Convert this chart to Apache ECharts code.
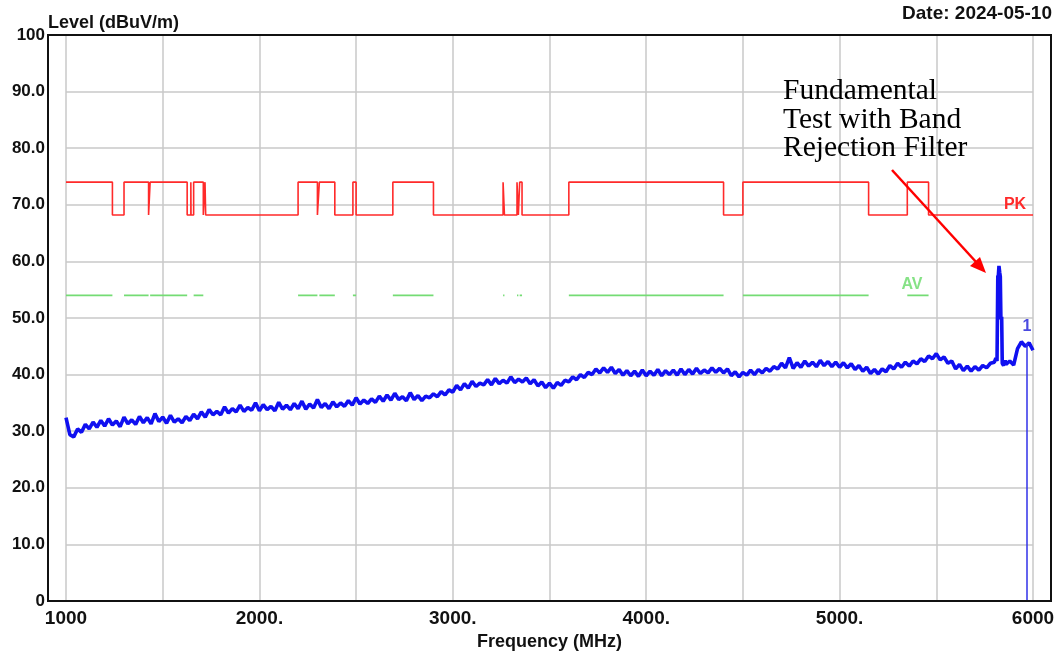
<!DOCTYPE html>
<html>
<head>
<meta charset="utf-8">
<script src="https://cdn.jsdelivr.net/npm/echarts@6/dist/echarts.min.js"></script>
<style>
  html, body { margin: 0; padding: 0; background: #fff; }
  #chart { width: 1061px; height: 654px; }
</style>
</head>
<body>
<div id="chart"></div>
<script>
// 限值 (dBuV/m)
const pkHigh = 74
const pkLow = 68.2
const avLevel = 54

// 限制频段 (MHz)
const restrictedBands = [
  [1000, 1240], [1300, 1427], [1435, 1626.5], [1645.5, 1646.5], [1660, 1710],
  [1718.8, 1722.2], [2200, 2300], [2310, 2390], [2483.5, 2500], [2690, 2900],
  [3260, 3267], [3332, 3339], [3345.8, 3358], [3600, 4400], [4500, 5150], [5350, 5460]
]

// 测量曲线: 1000 ~ 5800 MHz, 每 20 MHz 一个点
const traceStart = 1000
const traceStep = 20
const traceLevels = [
  32.4, 29.4, 29.0, 30.4, 29.8, 31.2, 30.4, 31.6, 30.7, 31.9,
  30.9, 32.2, 31.1, 31.8, 30.8, 32.5, 31.3, 32.0, 31.2, 32.6,
  31.5, 32.4, 31.3, 33.1, 31.7, 32.5, 31.4, 32.8, 31.6, 32.2,
  31.5, 32.6, 31.9, 33.0, 32.2, 33.4, 32.5, 33.8, 32.9, 33.5,
  32.9, 34.3, 33.2, 34.0, 33.4, 34.6, 33.5, 34.2, 33.7, 35.0,
  33.6, 34.7, 33.8, 34.4, 33.6, 35.1, 33.9, 34.6, 33.8, 34.9,
  34.0, 35.3, 33.9, 34.8, 34.1, 35.6, 34.2, 34.9, 34.0, 35.2,
  34.3, 35.0, 34.4, 35.4, 34.6, 35.9, 34.8, 35.5, 34.9, 35.7,
  35.1, 36.2, 35.3, 36.4, 35.5, 36.7, 35.6, 36.1, 35.4, 36.8,
  35.6, 36.3, 35.4, 36.2, 35.9, 36.6, 36.1, 37.0, 36.4, 37.3,
  36.9, 38.1, 37.3, 38.4, 37.6, 38.8, 37.9, 38.5, 38.2, 39.1,
  38.2, 39.3, 38.4, 39.0, 38.5, 39.6, 38.6, 39.2, 38.7, 39.4,
  38.4, 39.1, 38.0, 38.7, 37.7, 38.5, 37.6, 38.6, 38.1, 39.0,
  38.7, 39.6, 39.1, 40.0, 39.5, 40.4, 40.0, 41.0, 40.3, 41.2,
  40.4, 41.3, 40.2, 40.9, 39.9, 40.7, 39.8, 40.6, 39.7, 40.8,
  39.8, 40.6, 39.9, 40.9, 39.8, 40.7, 40.0, 40.8, 39.9, 41.0,
  40.0, 40.9, 40.1, 41.1, 40.2, 40.8, 40.3, 41.2, 40.4, 41.1,
  40.3, 41.0, 39.8, 40.5, 39.6, 40.4, 39.9, 40.8, 40.0, 40.9,
  40.3, 41.1, 40.6, 41.4, 41.0, 42.0, 41.2, 43.0, 41.1, 42.1,
  41.3, 42.4, 41.5, 42.2, 41.4, 42.5, 41.6, 42.3, 41.4, 42.2,
  41.3, 42.1, 41.2, 41.9, 40.9, 41.6, 40.6, 41.3, 40.2, 40.9,
  40.1, 41.0, 40.5, 41.6, 41.0, 42.0, 41.3, 42.2, 41.5, 42.4,
  41.9, 42.8, 42.3, 43.3, 42.8, 43.7, 42.6, 43.1, 42.0, 42.4,
  41.0, 41.8, 40.7, 41.5, 40.6, 41.4, 40.8, 41.6, 41.2, 42.0,
  42.2
]
// 基波 (带阻滤波器) 附近的细节点 [MHz, dBuV/m]
const peakPoints = [
  [5808, 42.9], [5814, 42.4], [5818, 57.5], [5820, 57.0], [5824, 59.2],
  [5828, 58.0], [5831, 57.3], [5834, 49.8], [5838, 50.2], [5841, 42.0],
  [5848, 41.6], [5856, 42.5]
]
const tailPoints = [
  [5860, 41.8], [5880, 42.4], [5900, 41.7], [5920, 44.6], [5940, 45.8],
  [5960, 45.0], [5980, 45.6], [6000, 44.3]
]
// 标记 1
const marker1 = { freq: 5969, level: 45.6 }

// 刻度标签
const xLabelValues = [1000, 2000, 3000, 4000, 5000, 6000]
const xLabelTexts = ['1000', '2000.', '3000.', '4000.', '5000.', '6000']
const yLabelValues = [0, 10, 20, 30, 40, 50, 60, 70, 80, 90, 100]
const yLabelTexts = ['0', '10.0', '20.0', '30.0', '40.0', '50.0', '60.0', '70.0', '80.0', '90.0', '100']

const trace = traceLevels.map((v, i) => [traceStart + i * traceStep, v])
  .concat(peakPoints, tailPoints)

// 峰值限值 (阶梯)
const pkLine = []
let cur = traceStart
restrictedBands.forEach(([a, b]) => {
  if (a > cur) pkLine.push([cur, pkLow], [a, pkLow])
  pkLine.push([a, pkHigh], [b, pkHigh])
  cur = b
})
pkLine.push([cur, pkLow], [6000, pkLow])

// 平均值限值 (只在限制频段)
const avLine = []
restrictedBands.forEach(([a, b]) => {
  avLine.push([a, avLevel], [b, avLevel], [b, '-'])
})

const font = "'Liberation Sans', Arial, sans-serif"
const chart = echarts.init(document.getElementById('chart'))

chart.setOption({
  animation: false,
  backgroundColor: '#fff',
  grid: { left: 66, right: 28, top: 35, bottom: 53, containLabel: false, outerBoundsMode: 'none' },
  xAxis: {
    type: 'value',
    min: 1000,
    max: 6000,
    interval: 500,
    name: 'Frequency (MHz)',
    nameLocation: 'middle',
    nameGap: 23,
    nameTextStyle: { fontFamily: font, fontWeight: 'bold', fontSize: 18, color: '#111' },
    axisLine: { show: false },
    axisTick: { show: false },
    axisLabel: {
      margin: 8,
      fontFamily: font, fontWeight: 'bold', fontSize: 19, color: '#111',
      formatter: v => {
        const i = xLabelValues.indexOf(v)
        return i >= 0 ? xLabelTexts[i] : ''
      }
    },
    splitLine: { show: true, lineStyle: { color: '#c8c8c8', width: 1.5 } }
  },
  yAxis: {
    type: 'value',
    min: 0,
    max: 100,
    interval: 10,
    axisLine: { show: false },
    axisTick: { show: false },
    axisLabel: {
      margin: 21,
      fontFamily: font, fontWeight: 'bold', fontSize: 17, color: '#111',
      formatter: v => {
        const i = yLabelValues.indexOf(v)
        return i >= 0 ? yLabelTexts[i] : ''
      }
    },
    splitLine: { show: true, lineStyle: { color: '#c8c8c8', width: 1.5 } }
  },
  series: [
    {
      name: 'PK',
      type: 'line',
      data: pkLine,
      showSymbol: false,
      lineStyle: { color: '#ff2a2a', width: 1.6 },
      z: 3,
      markPoint: {
        symbol: 'circle',
        symbolSize: 0,
        data: [{ coord: [5907, 70.1] }],
        label: {
          show: true, position: 'inside', formatter: 'PK',
          fontFamily: font, fontWeight: 'bold', fontSize: 16, color: '#ff2a2a'
        }
      }
    },
    {
      name: 'AV',
      type: 'line',
      data: avLine,
      showSymbol: false,
      connectNulls: false,
      lineStyle: { color: '#74dc74', width: 1.6 },
      z: 3,
      markPoint: {
        symbol: 'circle',
        symbolSize: 0,
        data: [{ coord: [5374, 55.9] }],
        label: {
          show: true, position: 'inside', formatter: 'AV',
          fontFamily: font, fontWeight: 'bold', fontSize: 16, color: '#86e286'
        }
      }
    },
    {
      name: 'Level',
      type: 'line',
      data: trace,
      showSymbol: false,
      lineStyle: { color: '#1010f0', width: 3.6 },
      z: 4,
      markLine: {
        silent: true,
        symbol: 'none',
        lineStyle: { color: '#3030e8', width: 1.5, type: 'solid' },
        label: {
          show: true, position: 'end', formatter: '1', distance: 8,
          fontFamily: font, fontWeight: 'bold', fontSize: 16, color: '#4a4ae0'
        },
        data: [[{ coord: [marker1.freq, 0] }, { coord: [marker1.freq, marker1.level] }]]
      }
    }
  ],
  graphic: [
    {
      type: 'rect',
      shape: { x: 48, y: 35, width: 1003, height: 566 },
      style: { fill: 'none', stroke: '#111', lineWidth: 2 },
      z: 10
    },
    {
      type: 'text', x: 48, y: 23,
      style: {
        text: 'Level (dBuV/m)', fontFamily: font, fontWeight: 'bold', fontSize: 18,
        fill: '#111', verticalAlign: 'middle', align: 'left'
      }
    },
    {
      type: 'text', x: 1052, y: 14,
      style: {
        text: 'Date: 2024-05-10', fontFamily: font, fontWeight: 'bold', fontSize: 19,
        fill: '#111', verticalAlign: 'middle', align: 'right'
      }
    },
    {
      type: 'text', x: 783, y: 77,
      style: {
        text: 'Fundamental\nTest with Band\nRejection Filter',
        fontFamily: "'Liberation Serif', 'Times New Roman', serif", fontSize: 29.5,
        lineHeight: 28.5, fill: '#000', verticalAlign: 'top', align: 'left'
      },
      z: 11
    },
    {
      type: 'line',
      shape: { x1: 892, y1: 170, x2: 977, y2: 263 },
      style: { stroke: '#ff0000', lineWidth: 2.5 },
      z: 11
    },
    {
      type: 'polygon',
      shape: { points: [[986, 273], [970, 266], [980, 257]] },
      style: { fill: '#ff0000' },
      z: 11
    }
  ]
})
</script>
</body>
</html>
